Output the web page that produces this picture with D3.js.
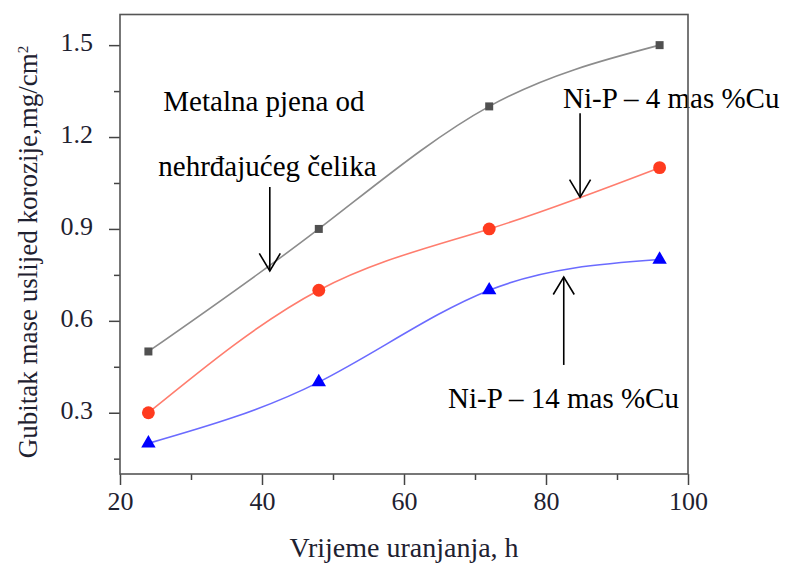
<!DOCTYPE html>
<html>
<head>
<meta charset="utf-8">
<script src="https://cdn.jsdelivr.net/npm/d3@7"></script>
<style>
  body { margin: 0; background: #fff; }
  text { font-family: "Liberation Serif", "Times New Roman", serif; }
</style>
</head>
<body>
<div id="chart"></div>
<script>
// values
const hours = [24, 48, 72, 96];
const steelFoam = [0.5, 0.9, 1.3, 1.5];
const niP4Cu = [0.3, 0.7, 0.9, 1.1];
const niP14Cu = [0.2, 0.4, 0.7, 0.8];

const xTicks = [20, 40, 60, 80, 100];
const xMinorTicks = [30, 50, 70, 90];
const yTicks = [0.3, 0.6, 0.9, 1.2, 1.5];
const yMinorTicks = [0.15, 0.45, 0.75, 1.05, 1.35];

// annotation labels and arrows, in data units (h, mg/cm2)
const labels = [
  { text: "Metalna pjena od", x: 26.1, y: 1.285 },
  { text: "nehrđajućeg čelika", x: 25.4, y: 1.073 },
  { text: "Ni-P – 4 mas %Cu", x: 82.4, y: 1.295 },
  { text: "Ni-P – 14 mas %Cu", x: 66.2, y: 0.316 }
];
const arrows = [
  { x: 41.1, from: 1.037, to: 0.763 },
  { x: 84.8, from: 1.278, to: 1.004 },
  { x: 82.5, from: 0.456, to: 0.743 }
];

function drawChart() {
  const width = 785;
  const height = 563;
  const margin = { top: 14.5, right: 97, bottom: 89, left: 120 };

  const svg = d3.select("#chart")
    .append("svg")
    .attr("width", width)
    .attr("height", height)
    .attr("font-family", "'Liberation Serif', 'Times New Roman', serif");

  const x = d3.scaleLinear()
    .domain([20, 100])
    .range([margin.left, width - margin.right]);

  const y = d3.scaleLinear()
    .domain([0.1, 1.6])
    .range([height - margin.bottom, margin.top]);

  const textColor = "#1e2130";

  // minor ticks first, majors on top
  svg.append("g")
    .attr("transform", `translate(0,${height - margin.bottom})`)
    .call(d3.axisBottom(x).tickValues(xMinorTicks).tickSize(6).tickFormat(""))
    .call(g => g.select(".domain").remove())
    .selectAll("line").attr("stroke", "#444").attr("stroke-width", 1.5);

  svg.append("g")
    .attr("transform", `translate(${margin.left},0)`)
    .call(d3.axisLeft(y).tickValues(yMinorTicks).tickSize(6).tickFormat(""))
    .call(g => g.select(".domain").remove())
    .selectAll("line").attr("stroke", "#444").attr("stroke-width", 1.5);

  const xAxis = svg.append("g")
    .attr("transform", `translate(0,${height - margin.bottom})`)
    .call(d3.axisBottom(x).tickValues(xTicks).tickSize(11).tickPadding(7).tickFormat(d3.format("d")))
    .attr("font-family", null);
  xAxis.select(".domain").remove();
  xAxis.selectAll("line").attr("stroke", "#444").attr("stroke-width", 1.5);
  xAxis.selectAll("text")
    .attr("fill", textColor)
    .style("font-size", "26px");

  const yAxis = svg.append("g")
    .attr("transform", `translate(${margin.left},0)`)
    .call(d3.axisLeft(y).tickValues(yTicks).tickSize(11).tickPadding(16).tickFormat(d3.format(".1f")))
    .attr("font-family", null);
  yAxis.select(".domain").remove();
  yAxis.selectAll("line").attr("stroke", "#444").attr("stroke-width", 1.5);
  yAxis.selectAll("text")
    .attr("fill", textColor)
    .attr("dy", "0.22em")
    .style("font-size", "26px");

  // series
  const series = [
    { values: steelFoam, line: "#8c8c8c", fill: "#505050", symbol: d3.symbolSquare, size: 64 },
    { values: niP4Cu, line: "#ff7d6e", fill: "#ff3b1f", symbol: d3.symbolCircle, size: 130 },
    { values: niP14Cu, line: "#6b6bff", fill: "#0000ff", symbol: d3.symbolTriangle, size: 90 }
  ];

  const line = d3.line()
    .x((d, i) => x(hours[i]))
    .y(d => y(d))
    .curve(d3.curveNatural);

  series.forEach(s => {
    svg.append("path")
      .datum(s.values)
      .attr("d", line)
      .attr("fill", "none")
      .attr("stroke", s.line)
      .attr("stroke-width", 1.6);

    svg.append("g")
      .selectAll("path")
      .data(s.values)
      .enter()
      .append("path")
      .attr("transform", (d, i) => `translate(${x(hours[i])},${y(d)})`)
      .attr("d", d3.symbol().type(s.symbol).size(s.size))
      .attr("fill", s.fill);
  });

  // annotations
  svg.append("g")
    .selectAll("text")
    .data(labels)
    .enter()
    .append("text")
    .attr("x", d => x(d.x))
    .attr("y", d => y(d.y))
    .attr("fill", "#000")
    .style("font-size", "29px")
    .text(d => d.text);

  arrows.forEach(a => {
    const ax = x(a.x);
    const y0 = y(a.from);
    const y1 = y(a.to);
    const dir = y1 > y0 ? 1 : -1;
    const g = svg.append("g")
      .attr("stroke", "#000")
      .attr("stroke-width", 1.6)
      .attr("fill", "none");
    g.append("line")
      .attr("x1", ax).attr("y1", y0)
      .attr("x2", ax).attr("y2", y1);
    g.append("path")
      .attr("d", `M${ax - 10.5},${y1 - dir * 17.5}L${ax},${y1}L${ax + 10.5},${y1 - dir * 17.5}`);
  });

  // frame
  svg.append("rect")
    .attr("x", margin.left)
    .attr("y", margin.top)
    .attr("width", width - margin.left - margin.right)
    .attr("height", height - margin.top - margin.bottom)
    .attr("fill", "none")
    .attr("stroke", "#555")
    .attr("stroke-width", 1.6);

  // axis titles
  svg.append("text")
    .attr("x", (margin.left + width - margin.right) / 2)
    .attr("y", 557)
    .attr("text-anchor", "middle")
    .attr("fill", textColor)
    .style("font-size", "28px")
    .text("Vrijeme uranjanja, h");

  const yTitle = svg.append("text")
    .attr("transform", `translate(37,252) rotate(-90)`)
    .attr("text-anchor", "middle")
    .attr("fill", textColor)
    .style("font-size", "27px");
  yTitle.append("tspan").text("Gubitak mase uslijed korozije,mg/cm");
  yTitle.append("tspan")
    .attr("dy", "-0.6em")
    .style("font-size", "15px")
    .text("2");
}

window.onload = drawChart;
</script>
</body>
</html>
